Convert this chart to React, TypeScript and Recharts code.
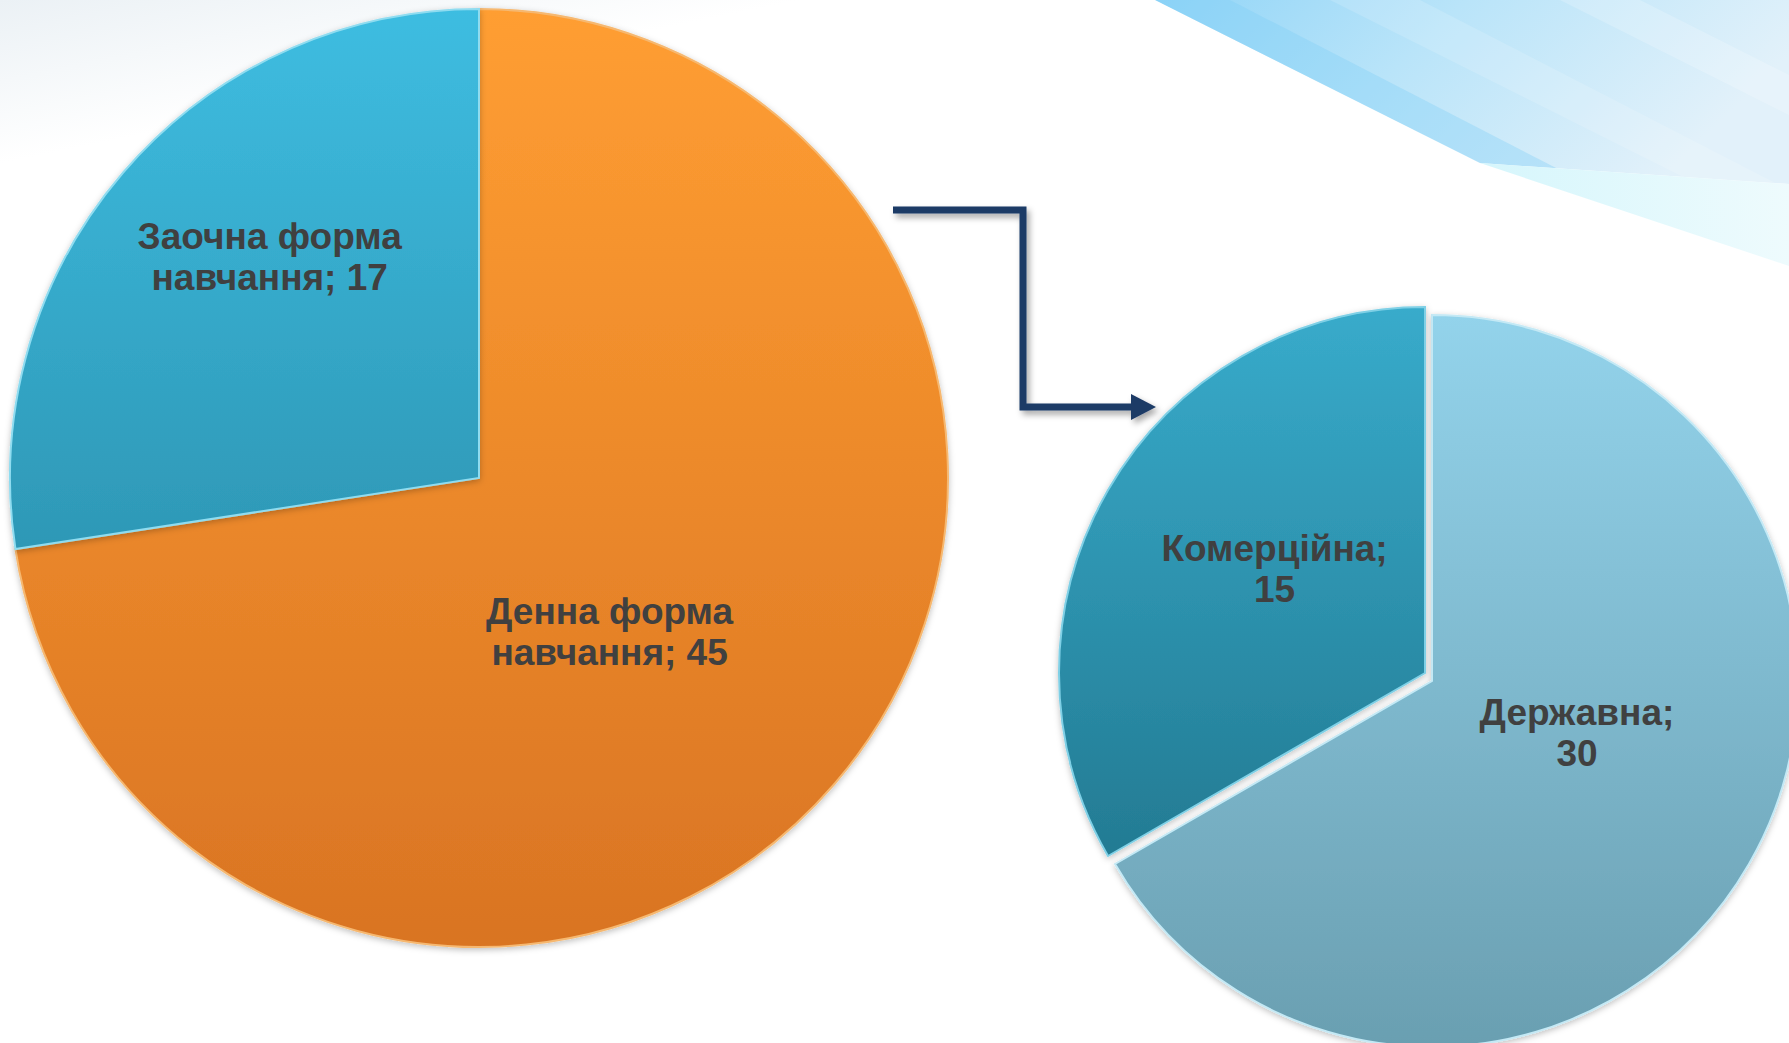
import { PieChart, Pie, Cell } from 'recharts'

const W = 1789
const H = 1043

// study form split (big pie)
const studyForms = ['Денна форма навчання', 'Заочна форма навчання']
const studyCounts = [45, 17]

// funding split of the full-time students (small pie)
const fundingTypes = ['Державна', 'Комерційна']
const fundingCounts = [30, 15]

const formData = studyForms.map((name, i) => ({ name, value: studyCounts[i] }))
const fundData = fundingTypes.map((name, i) => ({ name, value: fundingCounts[i] }))

// label placement: fraction of radius + angle nudge in degrees
const formLabelPos = [
  { frac: 0.43, dAngle: -9 },
  { frac: 0.65, dAngle: -6 },
]
const fundLabelPos = [
  { frac: 0.42, dAngle: 10.6 },
  { frac: 0.5, dAngle: -4.7 },
]

const RAD = Math.PI / 180
const FONT = '"Liberation Sans", Arial, sans-serif'

function splitLabel(name: string, value: number): [string, string] {
  const cut = name.lastIndexOf(' ')
  if (cut < 0) return [`${name};`, `${value}`]
  return [name.slice(0, cut), `${name.slice(cut + 1)}; ${value}`]
}

function makeLabel(pos: { frac: number; dAngle: number }[], only?: number) {
  return (p: any) => {
    if (only !== undefined && p.index !== only) return null
    const { frac, dAngle } = pos[p.index] ?? { frac: 0.5, dAngle: 0 }
    const a = (p.midAngle + dAngle) * RAD
    const r = p.outerRadius * frac
    const x = p.cx + r * Math.cos(-a)
    const y = p.cy + r * Math.sin(-a)
    const [l1, l2] = splitLabel(p.name ?? p.payload?.name, p.value)
    return (
      <text
        x={x}
        y={y}
        textAnchor="middle"
        dominantBaseline="central"
        fill="#404040"
        fontSize={37}
        fontWeight="bold"
        fontFamily={FONT}
      >
        <tspan x={x} y={y - 20.5}>{l1}</tspan>
        <tspan x={x} y={y + 20.5}>{l2}</tspan>
      </text>
    )
  }
}

function Backdrop() {
  return (
    <svg width={W} height={H} style={{ position: 'absolute', left: 0, top: 0 }}>
      <defs>
        <linearGradient id="bgTop" x1="0" y1="0" x2="0.35" y2="1">
          <stop offset="0" stopColor="#ebf1f5" />
          <stop offset="0.14" stopColor="#ffffff" />
        </linearGradient>
        <linearGradient id="swoosh1" x1="0" y1="0" x2="1" y2="0.3">
          <stop offset="0" stopColor="#92d5f7" />
          <stop offset="0.45" stopColor="#b9e4f9" />
          <stop offset="1" stopColor="#e2f1fa" />
        </linearGradient>
        <linearGradient id="swoosh2" x1="0" y1="0" x2="1" y2="0">
          <stop offset="0" stopColor="#d6f6fc" />
          <stop offset="1" stopColor="#eefbfd" />
        </linearGradient>
        <clipPath id="swooshClip">
          <polygon points="1155,0 1789,0 1789,184 1480,163" />
        </clipPath>
        <filter id="arrowShadow" x="-20%" y="-20%" width="140%" height="140%">
          <feDropShadow dx="3" dy="4" stdDeviation="3" floodColor="#000" floodOpacity="0.35" />
        </filter>
      </defs>
      <rect width={W} height={H} fill="#ffffff" />
      <rect width={W} height={H} fill="url(#bgTop)" />
      <polygon points="1155,0 1789,0 1789,184 1480,163" fill="url(#swoosh1)" />
      <g clipPath="url(#swooshClip)">
        <polygon points="1155,0 1230,0 1560,170 1480,170" fill="#7fcdf5" opacity={0.35} />
        <polygon points="1330,0 1420,0 1789,190 1789,230" fill="#ffffff" opacity={0.15} />
        <polygon points="1560,0 1640,0 1789,75 1789,115" fill="#ffffff" opacity={0.2} />
      </g>
      <polygon points="1480,163 1789,184 1789,266" fill="url(#swoosh2)" />
      <g filter="url(#arrowShadow)">
        <polyline
          points="893,210 1023,210 1023,407 1136,407"
          fill="none"
          stroke="#1d3a66"
          strokeWidth={7}
          strokeLinejoin="miter"
        />
        <polygon points="1131,394 1156,407 1131,420" fill="#1d3a66" />
      </g>
    </svg>
  )
}

export default function App() {
  return (
    <div style={{ position: 'absolute', left: 0, top: 0, width: W, height: H, overflow: 'hidden' }}>
      <Backdrop />
      <div style={{ position: 'absolute', left: 0, top: 0 }}>
        <PieChart width={W} height={H} margin={{ top: 0, right: 0, bottom: 0, left: 0 }}>
          <defs>
            <linearGradient id="gOrange" x1="0" y1="0" x2="0" y2="1">
              <stop offset="0" stopColor="#ff9e32" />
              <stop offset="1" stopColor="#d97423" />
            </linearGradient>
            <linearGradient id="gSky" x1="0" y1="0" x2="0" y2="1">
              <stop offset="0" stopColor="#3ebde1" />
              <stop offset="1" stopColor="#2e98b6" />
            </linearGradient>
            <linearGradient id="gTeal" x1="0" y1="0" x2="0" y2="1">
              <stop offset="0" stopColor="#38abcb" />
              <stop offset="1" stopColor="#237b93" />
            </linearGradient>
            <linearGradient id="gPale" x1="0" y1="0" x2="0" y2="1">
              <stop offset="0" stopColor="#93d3eb" />
              <stop offset="1" stopColor="#6a9fb1" />
            </linearGradient>
            <filter id="pieShadow" x="-10%" y="-10%" width="120%" height="120%">
              <feDropShadow dx="0" dy="2" stdDeviation="3" floodColor="#000" floodOpacity="0.25" />
            </filter>
          </defs>

          <Pie
            data={formData}
            dataKey="value"
            nameKey="name"
            cx={479}
            cy={478}
            outerRadius={469}
            startAngle={90}
            endAngle={-270}
            label={makeLabel(formLabelPos)}
            labelLine={false}
            isAnimationActive={false}
          >
            <Cell fill="url(#gOrange)" stroke="#f6b870" strokeWidth={2} filter="url(#pieShadow)" />
            <Cell fill="url(#gSky)" stroke="#8fdcf0" strokeWidth={2} filter="url(#pieShadow)" />
          </Pie>

          {/* Державна in place */}
          <Pie
            data={fundData}
            dataKey="value"
            nameKey="name"
            cx={1432}
            cy={681}
            outerRadius={366}
            startAngle={90}
            endAngle={-270}
            label={makeLabel(fundLabelPos, 0)}
            labelLine={false}
            isAnimationActive={false}
          >
            <Cell fill="url(#gPale)" stroke="#c4e9f5" strokeWidth={2} filter="url(#pieShadow)" />
            <Cell fill="none" stroke="none" />
          </Pie>

          {/* Комерційна pulled out */}
          <Pie
            data={fundData}
            dataKey="value"
            nameKey="name"
            cx={1425}
            cy={673}
            outerRadius={366}
            startAngle={90}
            endAngle={-270}
            label={makeLabel(fundLabelPos, 1)}
            labelLine={false}
            isAnimationActive={false}
          >
            <Cell fill="none" stroke="none" />
            <Cell fill="url(#gTeal)" stroke="#7fd0e6" strokeWidth={2} filter="url(#pieShadow)" />
          </Pie>
        </PieChart>
      </div>
    </div>
  )
}
